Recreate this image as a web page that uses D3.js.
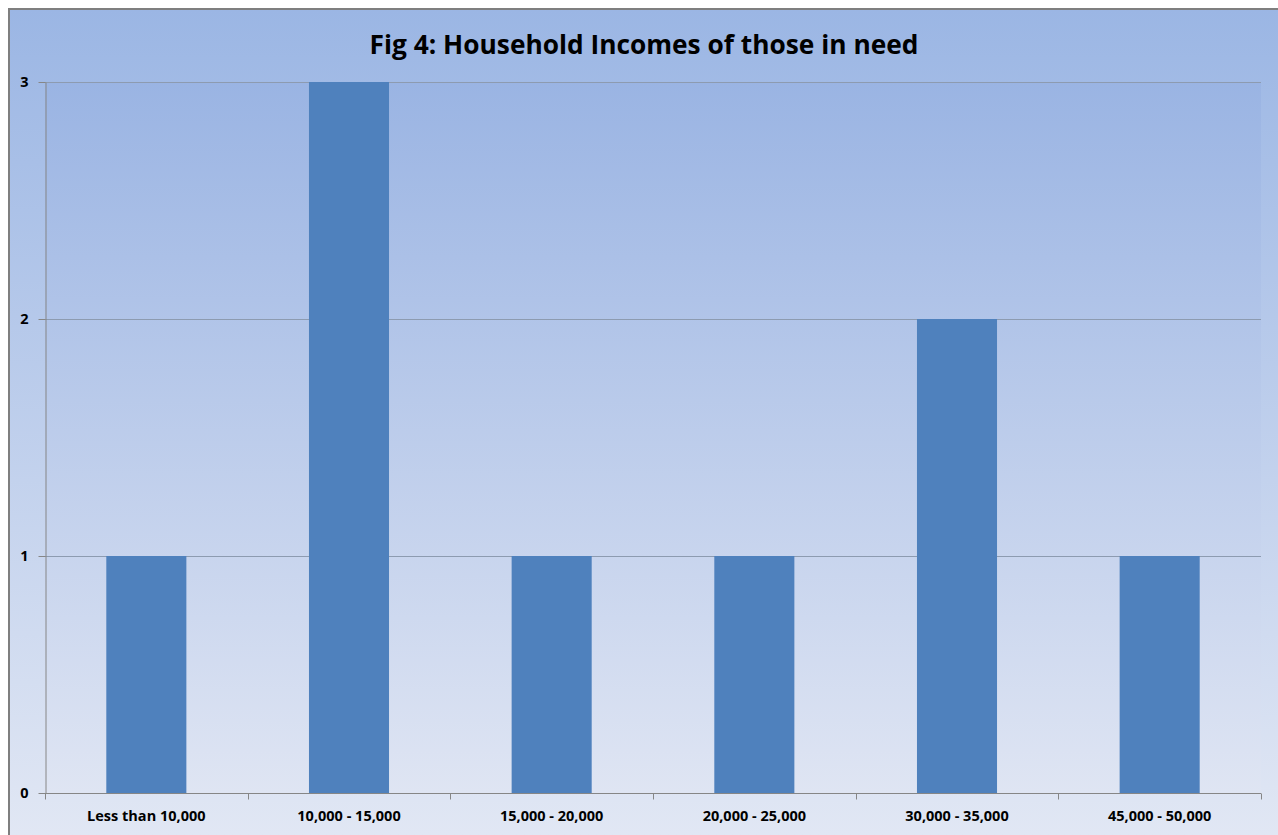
<!DOCTYPE html>
<html>
<head>
<meta charset="utf-8">
<script src="https://cdn.jsdelivr.net/npm/d3@7"></script>
<style>
  html, body { margin: 0; padding: 0; background: #ffffff; }
  svg { display: block; }
</style>
</head>
<body>
<script>
// Household income bands and the number of households in each
const categories = ["Less than 10,000", "10,000 - 15,000", "15,000 - 20,000", "20,000 - 25,000", "30,000 - 35,000", "45,000 - 50,000"];
const counts = [1, 3, 1, 1, 2, 1];
const yTicks = [0, 1, 2, 3];
const title = "Fig 4: Household Incomes of those in need";

const W = 1278, H = 835;
const margin = { left: 45, right: 17, top: 82, bottom: 42 };
const font = "'Open Sans', 'Liberation Sans', Arial, sans-serif";

const svg = d3.select("body").append("svg")
  .attr("width", W).attr("height", H);

const defs = svg.append("defs");
const chartGrad = defs.append("linearGradient")
  .attr("id", "chartBg").attr("x1", 0).attr("y1", 0).attr("x2", 0).attr("y2", 1);
chartGrad.append("stop").attr("offset", "0%").attr("stop-color", "#9bb6e4");
chartGrad.append("stop").attr("offset", "100%").attr("stop-color", "#e1e7f4");

const plotGrad = defs.append("linearGradient")
  .attr("id", "plotBg").attr("x1", 0).attr("y1", 0).attr("x2", 0).attr("y2", 1);
plotGrad.append("stop").attr("offset", "0%").attr("stop-color", "#9ab4e3");
plotGrad.append("stop").attr("offset", "100%").attr("stop-color", "#dfe5f3");

// Chart area with its frame (left and top edges visible)
svg.append("rect")
  .attr("x", 9).attr("y", 9).attr("width", W - 9).attr("height", H - 9)
  .attr("fill", "url(#chartBg)");
svg.append("path")
  .attr("d", `M9,${H} L9,9 L${W},9`)
  .attr("fill", "none").attr("stroke", "#7f7f7f").attr("stroke-width", 2);

const x0 = margin.left, x1 = W - margin.right;
const y0 = H - margin.bottom, y1 = margin.top;

svg.append("rect")
  .attr("x", x0).attr("y", y1).attr("width", x1 - x0).attr("height", y0 - y1)
  .attr("fill", "url(#plotBg)");

const x = d3.scaleBand().domain(categories).range([x0, x1]).padding(0);
const y = d3.scaleLinear().domain([0, 3]).range([y0, y1]);

// Horizontal gridlines
svg.append("g").selectAll("line")
  .data(yTicks.filter(d => d > 0))
  .join("line")
  .attr("x1", x0).attr("x2", x1)
  .attr("y1", d => Math.round(y(d)) + 0.5).attr("y2", d => Math.round(y(d)) + 0.5)
  .attr("stroke", "#8d9bb0").attr("stroke-width", 1);

// Bars
const barFrac = 0.395;
svg.append("g").selectAll("rect")
  .data(categories.map((c, i) => ({ c, v: counts[i] })))
  .join("rect")
  .attr("x", d => x(d.c) + x.bandwidth() * (1 - barFrac) / 2)
  .attr("width", x.bandwidth() * barFrac)
  .attr("y", d => y(d.v))
  .attr("height", d => y(0) - y(d.v))
  .attr("fill", "#4f81bd");

// Y axis
const yAxis = svg.append("g")
  .attr("transform", `translate(${x0 + 0.5},0)`)
  .call(d3.axisLeft(y).tickValues(yTicks).tickFormat(d3.format("d")).tickSize(7).tickSizeOuter(0));
yAxis.select(".domain").attr("stroke", "#868686");
yAxis.selectAll(".tick line").attr("stroke", "#868686");
yAxis.selectAll(".tick text")
  .attr("x", -17)
  .attr("font-family", font)
  .attr("font-weight", "bold").attr("font-size", 14.5).attr("fill", "#000");

// X axis: ticks fall on category boundaries
const xAxis = svg.append("g").attr("transform", `translate(0,${y0 + 0.5})`);
xAxis.append("line")
  .attr("x1", x0).attr("x2", x1).attr("stroke", "#868686");
const bounds = categories.map(c => x(c)).concat([x1]);
xAxis.selectAll("line.tk")
  .data(bounds)
  .join("line").attr("class", "tk")
  .attr("x1", d => Math.round(d) + 0.5).attr("x2", d => Math.round(d) + 0.5)
  .attr("y1", 0).attr("y2", 6)
  .attr("stroke", "#868686");
xAxis.selectAll("text")
  .data(categories)
  .join("text")
  .attr("x", d => x(d) + x.bandwidth() / 2)
  .attr("y", 27)
  .attr("text-anchor", "middle")
  .attr("font-family", font)
  .attr("font-weight", "bold").attr("font-size", 14.5).attr("fill", "#000")
  .text(d => d);

// Title
svg.append("text")
  .attr("x", 644).attr("y", 54)
  .attr("text-anchor", "middle")
  .attr("font-family", font)
  .attr("font-weight", "bold").attr("font-size", 26.3).attr("fill", "#000")
  .text(title);
</script>
</body>
</html>
